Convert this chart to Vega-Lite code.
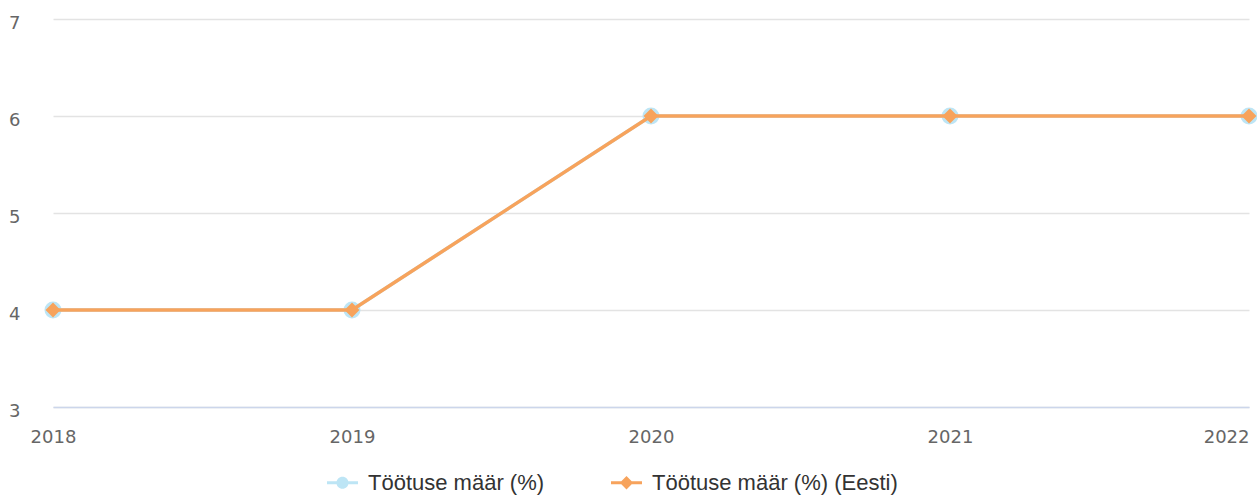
{
  "$schema": "https://vega.github.io/schema/vega-lite/v6.json",
  "width": 1196,
  "height": 388,
  "autosize": {"type": "none"},
  "padding": {"left": 53, "top": 19, "right": 8, "bottom": 88},
  "background": "#ffffff",
  "config": {"view": {"stroke": null}},
  "data": {
    "values": [
      {"year": 2018, "value": 4, "series": "Töötuse määr (%)"},
      {"year": 2019, "value": 4, "series": "Töötuse määr (%)"},
      {"year": 2020, "value": 6, "series": "Töötuse määr (%)"},
      {"year": 2021, "value": 6, "series": "Töötuse määr (%)"},
      {"year": 2022, "value": 6, "series": "Töötuse määr (%)"},
      {"year": 2018, "value": 4, "series": "Töötuse määr (%) (Eesti)"},
      {"year": 2019, "value": 4, "series": "Töötuse määr (%) (Eesti)"},
      {"year": 2020, "value": 6, "series": "Töötuse määr (%) (Eesti)"},
      {"year": 2021, "value": 6, "series": "Töötuse määr (%) (Eesti)"},
      {"year": 2022, "value": 6, "series": "Töötuse määr (%) (Eesti)"}
    ]
  },
  "encoding": {
    "x": {
      "field": "year", "type": "quantitative",
      "scale": {"domain": [2018, 2022], "nice": false, "zero": false},
      "axis": {
        "title": null, "values": [2018, 2019, 2020, 2021, 2022], "format": "d",
        "grid": false, "ticks": false, "domain": true, "domainColor": "#ccd6eb", "domainWidth": 1.5,
        "labelFont": "DejaVu Sans", "labelFontSize": 18, "labelColor": "#666666",
        "labelPadding": 21, "labelFlush": false, "labelOverlap": false,
        "labelAlign": {"expr": "datum.value == 2022 ? 'right' : 'center'"},
        "labelBound": false
      }
    },
    "y": {
      "field": "value", "type": "quantitative",
      "scale": {"domain": [3, 7], "nice": false, "zero": false},
      "axis": {
        "title": null, "values": [3, 4, 5, 6, 7], "grid": true, "gridColor": "#e3e3e3", "gridWidth": 1.5,
        "ticks": false, "domain": false,
        "labelFont": "DejaVu Sans", "labelFontSize": 18, "labelColor": "#666666",
        "labelPadding": 33, "labelOffset": 4
      }
    }
  },
  "layer": [
    {
      "transform": [{"filter": "datum.year == 2018"}],
      "mark": {"type": "point", "filled": true, "opacity": 0, "size": 961},
      "encoding": {
        "color": {"field": "series", "type": "nominal",
          "scale": {"domain": ["Töötuse määr (%)", "Töötuse määr (%) (Eesti)"], "range": ["#bde5f5", "#f7a35c"]},
          "legend": {
            "title": null, "orient": "none", "legendX": 274, "legendY": 448, "direction": "horizontal",
            "symbolOpacity": 1, "symbolSize": 961, "symbolStrokeWidth": 0,
            "labelFont": "Liberation Sans", "labelFontSize": 22, "labelColor": "#333333",
            "labelOffset": 10, "columnPadding": 66, "padding": 0, "labelLimit": 400
          }},
        "shape": {"field": "series", "type": "nominal",
          "scale": {"domain": ["Töötuse määr (%)", "Töötuse määr (%) (Eesti)"],
            "range": [
              "M-1,-0.1H-0.2V0.1H-1Z M0.2,-0.1H1V0.1H0.2Z M-0.39,0A0.39,0.39,0,0,1,0.39,0A0.39,0.39,0,0,1,-0.39,0Z",
              "M-1,-0.1H-0.3V0.1H-1Z M0.3,-0.1H1V0.1H0.3Z M0,-0.43L0.43,0L0,0.43L-0.43,0Z"
            ]},
          "legend": {"title": null, "orient": "none", "legendX": 274, "legendY": 448, "direction": "horizontal",
            "symbolOpacity": 1, "symbolSize": 961, "symbolStrokeWidth": 0,
            "labelFont": "Liberation Sans", "labelFontSize": 22, "labelColor": "#333333",
            "labelOffset": 10, "columnPadding": 66, "padding": 0, "labelLimit": 400}}
      }
    },
    {
      "transform": [{"filter": "datum.series == 'Töötuse määr (%)'"}],
      "mark": {"type": "point", "filled": true, "opacity": 1, "size": 289, "shape": "circle"},
      "encoding": {
        "color": {"field": "series", "type": "nominal"}
      }
    },
    {
      "mark": {"type": "line", "strokeWidth": 3.5},
      "encoding": {
        "color": {"field": "series", "type": "nominal"}
      }
    },
    {
      "transform": [{"filter": "datum.series == 'Töötuse määr (%) (Eesti)'"}],
      "mark": {"type": "point", "filled": true, "opacity": 1, "size": 225, "shape": "diamond"},
      "encoding": {
        "color": {"field": "series", "type": "nominal"}
      }
    }
  ]
}
